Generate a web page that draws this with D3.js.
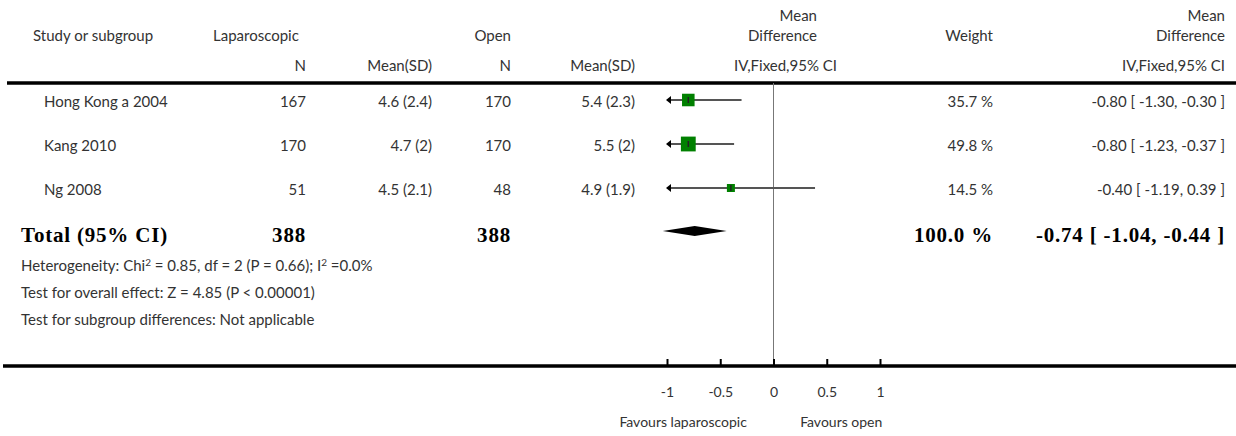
<!DOCTYPE html>
<html>
<head>
<meta charset="utf-8">
<script src="https://cdn.jsdelivr.net/npm/d3@7"></script>
<style>
	body { margin: 0; background: #fff; }
	svg { display: block; font-family: Lato, 'Open Sans', sans-serif; }
	.txt { font-size: 15px; fill: #333; }
	.bold { font-family: 'Liberation Serif', 'DejaVu Serif', serif; font-weight: bold; font-size: 21px; letter-spacing: 0.8px; fill: #000; }
	.tick text { font-size: 14px; fill: #333; font-family: Lato, sans-serif; }
</style>
</head>
<body>
<svg id="forest" width="1236" height="436" viewBox="0 0 1236 436"></svg>
<script>
const studies = ['Hong Kong a 2004', 'Kang 2010', 'Ng 2008']
const lapN = [167, 170, 51]
const lapMean = [4.6, 4.7, 4.5]
const lapSD = [2.4, 2, 2.1]
const openN = [170, 170, 48]
const openMean = [5.4, 5.5, 4.9]
const openSD = [2.3, 2, 1.9]
const weights = [35.7, 49.8, 14.5]
const md = [-0.80, -0.80, -0.40]
const ciLow = [-1.30, -1.23, -1.19]
const ciHigh = [-0.30, -0.37, 0.39]

const totalN = [388, 388]
const totalWeight = 100.0
const totalMd = -0.74
const totalLow = -1.04
const totalHigh = -0.44

const axisTicks = [-1, -0.5, 0, 0.5, 1]
const favours = ['Favours laparoscopic', 'Favours open']
const footnotes = [
	['Heterogeneity: Chi', '2', ' = 0.85, df = 2 (P = 0.66); I', '2', ' =0.0%'],
	['Test for overall effect: Z = 4.85 (P < 0.00001)'],
	['Test for subgroup differences: Not applicable'],
]

const svg = d3.select('#forest')
const f2 = (v) => v.toFixed(2)
const ciText = (m, lo, hi) => `${f2(m)} [ ${f2(lo)}, ${f2(hi)} ]`

// columns
const col = { study: 44, lapHead: 213, lapN: 306, lapMean: 432, openN: 511, openMean: 635, plotHead: 817, weight: 993, ci: 1225 }
const x = d3.scaleLinear().domain([-1, 1]).range([667, 880])
const rowY = d3.scaleLinear().domain([0, 1]).range([100, 144])
const boxSize = d3.scaleSqrt().domain([0, 100]).range([0, 21])
const topRule = 83
const bottomRule = 366
const totalY = 231

const text = (xx, yy, str, anchor = 'start', cls = 'txt') => svg.append('text')
	.attr('class', cls).attr('x', xx).attr('y', yy)
	.style('text-anchor', anchor).text(str)

// header
text(33, 41, 'Study or subgroup')
text(col.lapHead, 41, 'Laparoscopic')
text(col.openN, 41, 'Open', 'end')
text(col.lapN, 71, 'N', 'end')
text(col.lapMean, 71, 'Mean(SD)', 'end')
text(col.openN, 71, 'N', 'end')
text(col.openMean, 71, 'Mean(SD)', 'end')
text(col.plotHead, 21, 'Mean', 'end')
text(col.plotHead, 41, 'Difference', 'end')
text(837, 71, 'IV,Fixed,95% CI', 'end')
text(col.weight, 41, 'Weight', 'end')
text(col.ci, 21, 'Mean', 'end')
text(col.ci, 41, 'Difference', 'end')
text(col.ci, 71, 'IV,Fixed,95% CI', 'end')

svg.append('line')
	.attr('x1', 7).attr('x2', 1236).attr('y1', topRule).attr('y2', topRule)
	.style('stroke', '#000').style('stroke-width', 3.5)

// zero line
svg.append('line')
	.attr('x1', x(0)).attr('x2', x(0)).attr('y1', topRule).attr('y2', bottomRule)
	.style('stroke', '#777').style('stroke-width', 1)

// study rows
const rows = svg.append('g').selectAll('g')
	.data(studies).enter().append('g')

const cell = (xx, anchor, fn) => rows.append('text').attr('class', 'txt')
	.attr('x', xx).attr('y', (_, i) => rowY(i) + 7)
	.style('text-anchor', anchor).text(fn)

cell(col.study, 'start', (d) => d)
cell(col.lapN, 'end', (_, i) => lapN[i])
cell(col.lapMean, 'end', (_, i) => `${lapMean[i]} (${lapSD[i]})`)
cell(col.openN, 'end', (_, i) => openN[i])
cell(col.openMean, 'end', (_, i) => `${openMean[i]} (${openSD[i]})`)
cell(col.weight, 'end', (_, i) => `${weights[i].toFixed(1)} %`)
cell(col.ci, 'end', (_, i) => ciText(md[i], ciLow[i], ciHigh[i]))

// CI lines, clipped at the axis ends
const [dMin, dMax] = x.domain()
rows.append('line')
	.attr('x1', (_, i) => x(Math.max(ciLow[i], dMin)))
	.attr('x2', (_, i) => x(Math.min(ciHigh[i], dMax)))
	.attr('y1', (_, i) => rowY(i)).attr('y2', (_, i) => rowY(i))
	.style('stroke', '#555').style('stroke-width', 2)

rows.filter((_, i) => ciLow[i] < dMin).append('path')
	.attr('d', (_, i) => `M${x(dMin) - 1},${rowY(i)}l5,-4v8z`)
	.style('fill', '#000')

rows.append('rect')
	.attr('x', (_, i) => x(md[i]) - boxSize(weights[i]) / 2)
	.attr('y', (_, i) => rowY(i) - boxSize(weights[i]) / 2)
	.attr('width', (_, i) => boxSize(weights[i]))
	.attr('height', (_, i) => boxSize(weights[i]))
	.style('fill', '#008000')

rows.append('line')
	.attr('x1', (_, i) => x(md[i])).attr('x2', (_, i) => x(md[i]))
	.attr('y1', (_, i) => rowY(i) - 3).attr('y2', (_, i) => rowY(i) + 3)
	.style('stroke', '#222').style('stroke-width', 1.5)

// total row
text(21, totalY + 11, 'Total (95% CI)', 'start', 'bold')
text(col.lapN, totalY + 11, totalN[0], 'end', 'bold')
text(col.openN, totalY + 11, totalN[1], 'end', 'bold')
text(col.weight, totalY + 11, `${totalWeight.toFixed(1)} %`, 'end', 'bold')
text(col.ci, totalY + 11, ciText(totalMd, totalLow, totalHigh), 'end', 'bold')

svg.append('path')
	.attr('d', `M${x(totalLow)},${totalY}L${x(totalMd)},${totalY - 5}L${x(totalHigh)},${totalY}L${x(totalMd)},${totalY + 5}Z`)
	.style('fill', '#000')

// footnotes
footnotes.forEach((parts, i) => {
	const t = svg.append('text').attr('class', 'txt').attr('x', 21).attr('y', 271 + i * 27)
	parts.forEach((p, j) => {
		const sup = j % 2 === 1
		t.append('tspan')
			.attr('dy', sup ? -5 : (j > 0 ? 5 : 0))
			.style('font-size', sup ? '10px' : null)
			.text(p)
	})
})

// axis
svg.append('line')
	.attr('x1', 3).attr('x2', 1236).attr('y1', bottomRule).attr('y2', bottomRule)
	.style('stroke', '#000').style('stroke-width', 3.5)

const gAxis = svg.append('g')
	.attr('transform', `translate(0, ${bottomRule})`)
	.call(d3.axisBottom(x).tickValues(axisTicks).tickSizeInner(-7).tickSizeOuter(0).tickPadding(21)
		.tickFormat((d) => String(d)))
gAxis.select('.domain').remove()
gAxis.selectAll('.tick line').style('stroke', '#000').style('stroke-width', 2)

text(x(-0.25), 427, favours[0], 'end').style('font-size', '14px')
text(x(0.25), 427, favours[1], 'start').style('font-size', '14px')
</script>
</body>
</html>
